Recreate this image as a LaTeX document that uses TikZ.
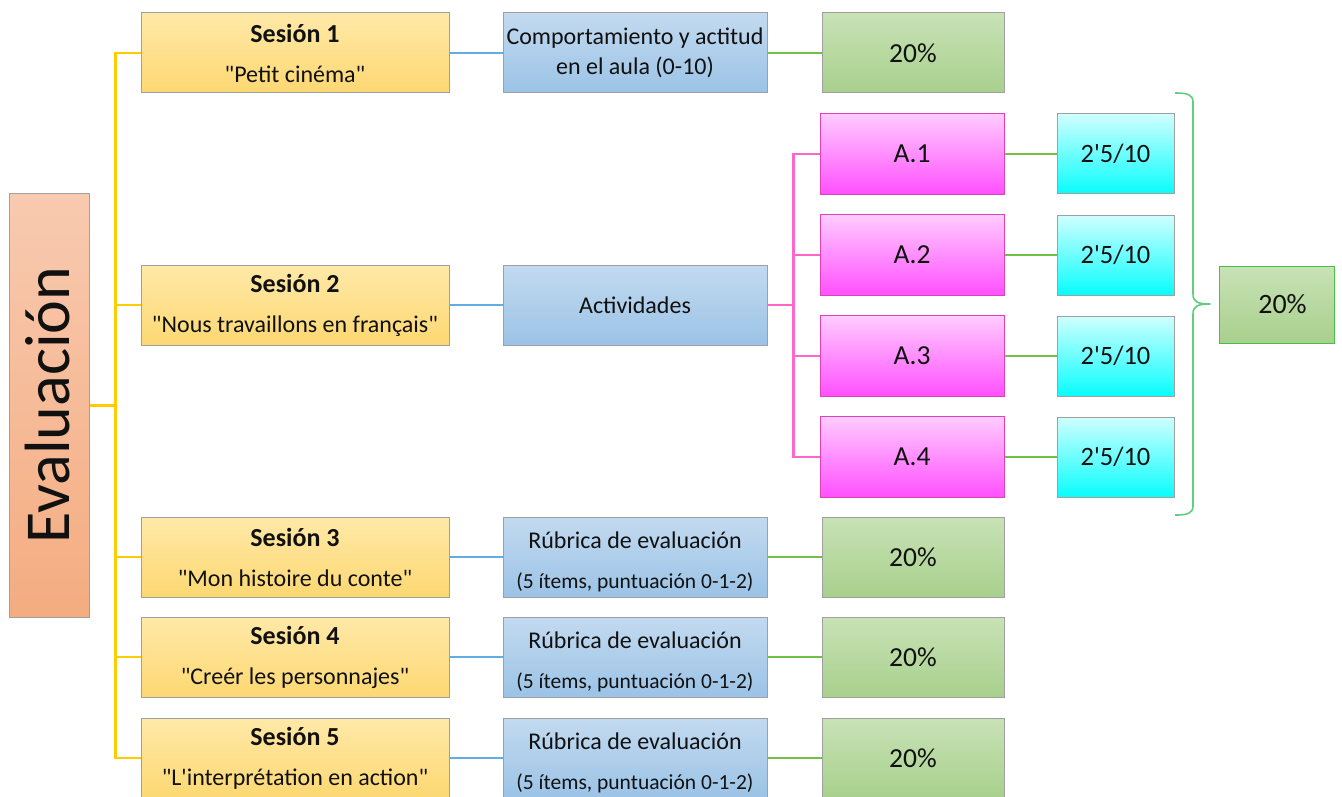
\documentclass[tikz,border=0pt]{standalone}
\usepackage{fontspec}
\newfontfamily\calfont{Carlito}
\definecolor{ytop}{HTML}{FFE9A8}
\definecolor{ybot}{HTML}{FDD872}
\definecolor{btop}{HTML}{C3DAF0}
\definecolor{bbot}{HTML}{9BC3E6}
\definecolor{gtop}{HTML}{C8E2B6}
\definecolor{gbot}{HTML}{A8D08C}
\definecolor{ptop}{HTML}{FFCCFF}
\definecolor{pbot}{HTML}{FF50FF}
\definecolor{ctop}{HTML}{D0FFFF}
\definecolor{cbot}{HTML}{08FCFC}
\definecolor{etop}{HTML}{F8CAB0}
\definecolor{ebot}{HTML}{F4AC80}
\definecolor{boxline}{HTML}{A0A0A0}
\definecolor{pinkline}{HTML}{E040B8}
\definecolor{yl}{HTML}{FFCC00}
\definecolor{bl}{HTML}{62ACE4}
\definecolor{gl}{HTML}{72C046}
\definecolor{pl}{HTML}{FF66CC}
\definecolor{brc}{HTML}{60CC84}
\definecolor{fgl}{HTML}{48C048}
\definecolor{txt}{HTML}{111111}
\begin{document}
\begin{tikzpicture}[x=1pt,y=-1pt,
  box/.style={rectangle,draw=boxline,line width=1pt,inner sep=0pt,align=center,text=txt,
    font=\calfont\fontsize{24}{29}\selectfont},
  ybox/.style={box,top color=ytop,bottom color=ybot,minimum width=308,minimum height=80,
    font=\calfont\fontsize{24}{40}\selectfont},
  bbox/.style={box,top color=btop,bottom color=bbot,minimum width=264,minimum height=80},
  gbox/.style={box,top color=gtop,bottom color=gbot,minimum width=182,minimum height=80,
    font=\calfont\fontsize{27.5}{32}\selectfont},
  pbox/.style={box,draw=pinkline,top color=ptop,bottom color=pbot,minimum width=184,minimum height=81,
    font=\calfont\fontsize{27.5}{32}\selectfont},
  cbox/.style={box,top color=ctop,bottom color=cbot,minimum width=117,minimum height=80,
    font=\calfont\fontsize{26.5}{32}\selectfont},
  ebox/.style={box,top color=etop,bottom color=ebot,minimum width=80,minimum height=423},
  fbox/.style={box,draw=fgl,top color=gtop,bottom color=gbot,minimum width=115,minimum height=77,
    font=\calfont\fontsize{28}{32}\selectfont},
  yline/.style={draw=yl,line width=2.2pt},
  bline/.style={draw=bl,line width=2.2pt},
  gline/.style={draw=gl,line width=2.2pt},
  pline/.style={draw=pl,line width=2.2pt},
  rub/.style={font=\calfont\fontsize{24}{40}\selectfont}
]
\useasboundingbox (0,0) rectangle (1342,797);

% root
\node[ebox] (ev) at (49,405.5) {};
\node[rotate=90,text=txt,font=\calfont\fontsize{64}{70}\selectfont,inner sep=0pt] (evt) at (48,405) {Evaluación};

% sessions
\newcommand{\ses}[1]{{\fontsize{26}{40}\selectfont\bfseries #1}}
\node[ybox] (s1) at (295,53) {\ses{Sesión 1}\\"Petit cinéma"};
\node[ybox] (s2) at (295,305) {\ses{Sesión 2}\\"Nous travaillons en français"};
\node[ybox] (s3) at (295,557) {\ses{Sesión 3}\\"Mon histoire du conte"};
\node[ybox] (s4) at (295,657) {\ses{Sesión 4}\\"Creér les personnajes"};
\node[ybox] (s5) at (295,758) {\ses{Sesión 5}\\"L'interprétation en action"};

% criteria
\newcommand{\rubtext}{\rule{0pt}{26pt}Rúbrica de evaluación\\{\fontsize{21.5}{40}\selectfont(5 ítems, puntuación 0-1-2)}}
\node[bbox,font=\calfont\fontsize{24}{30}\selectfont] (b1) at (635,53) {Comportamiento y actitud\\en el aula (0-10)};
\node[bbox] (b2) at (635,305) {Actividades};
\node[bbox,rub] (b3) at (635,557) {\rubtext};
\node[bbox,rub] (b4) at (635,657) {\rubtext};
\node[bbox,rub] (b5) at (635,758) {\rubtext};

% percentages
\node[gbox] (g1) at (913,53) {20\%};
\node[gbox] (g3) at (913,557) {20\%};
\node[gbox] (g4) at (913,657) {20\%};
\node[gbox] (g5) at (913,758) {20\%};

% activities
\node[pbox] (a1) at (912,154) {A.1};
\node[pbox] (a2) at (912,255) {A.2};
\node[pbox] (a3) at (912,356) {A.3};
\node[pbox] (a4) at (912,457) {A.4};

\node[cbox] (c1) at (1115.5,154) {2'5/10};
\node[cbox] (c2) at (1115.5,255) {2'5/10};
\node[cbox] (c3) at (1115.5,356) {2'5/10};
\node[cbox] (c4) at (1115.5,457) {2'5/10};

\node[fbox] (fin) at (1276.5,304.5) {\hspace*{12pt}20\%};

% connectors
\foreach \s in {s1,s2,s3,s4,s5}{
  \draw[yline] (ev.east) -- ++(26,0) |- (\s.west);
}
\foreach \i in {1,2,3,4,5}{
  \draw[bline] (s\i.east) -- (b\i.west);
}
\foreach \i in {1,3,4,5}{
  \draw[gline] (b\i.east) -- (g\i.west);
}
\foreach \i in {1,2,3,4}{
  \draw[pline] (b2.east) -- ++(26,0) |- (a\i.west);
  \draw[gline] (a\i.east) -- (c\i.west);
}

% brace
\coordinate (bt) at (1175,93);
\coordinate (bb) at (1175,515);
\coordinate (tip) at (1210,304);
\draw[brc,line width=1.6pt,line join=round]
  (bt) .. controls (1186,93) and (1193,94) .. (1193,102)
  -- (1193,294) .. controls (1193,302) and (1198,304) .. (tip)
  .. controls (1198,304) and (1193,306) .. (1193,314)
  -- (1193,506) .. controls (1193,514) and (1186,515) .. (bb);
\end{tikzpicture}
\end{document}
